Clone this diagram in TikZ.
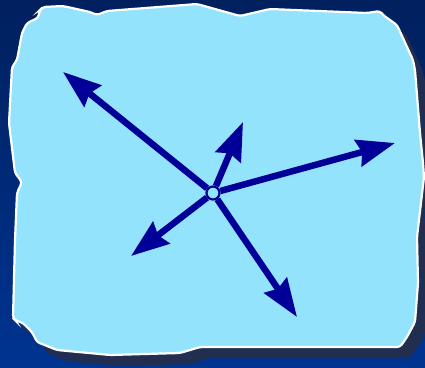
\documentclass[tikz,border=0pt]{standalone}
\usetikzlibrary{arrows.meta}
\definecolor{bgtop}{RGB}{0,32,94}
\definecolor{bgbot}{RGB}{0,52,145}
\definecolor{paper}{RGB}{148,227,253}
\definecolor{ink}{RGB}{0,0,153}
\definecolor{shadowc}{RGB}{33,46,80}
\def\papershape{(40,10) -- (43,7) -- (63,6) -- (90,12) -- (97,15) -- (107,11) -- (197,4) -- (240,16) -- (270,9) -- (367,13) -- (380,11) -- (383,15) -- (397,25) -- (413,60) -- (415,70) -- (420,133) -- (423,163) -- (424,177) -- (417,237) -- (418,283) -- (415,322) -- (407,337) -- (400,347) -- (200,347) -- (180,353) -- (110,355) -- (57,350) -- (37,342) -- (32,332) -- (23,323) -- (15,320) -- (13,318) -- (15,240) -- (17,193) -- (22,182) -- (15,173) -- (9,123) -- (12,67) -- (17,60) -- (22,33) -- (27,23) -- (38,18) -- cycle}
\tikzset{
  arr/.style={draw=ink, line width=6.5pt, -{Stealth[length=38pt,width=27pt,inset=4pt]}},
  hub/.style={circle, minimum size=13pt, inner sep=0pt, fill=paper, draw=ink, line width=2.2pt}
}
\begin{document}
\begin{tikzpicture}[x=1pt,y=-1pt]
\shade[top color=bgtop,bottom color=bgbot] (0,0) rectangle (425,367);
\useasboundingbox (0,0) rectangle (425,367);
\begin{scope}[shift={(10,11)}]
  \fill[shadowc, rounded corners=3pt] \papershape;
\end{scope}
\draw[fill=paper, draw=white, line width=2.2pt, rounded corners=3pt] \papershape;
\node[hub] (c) at (213,193) {};
\coordinate (t1) at (63,72);
\coordinate (t2) at (243,122);
\coordinate (t3) at (395,143);
\coordinate (t4) at (131,256);
\coordinate (t5) at (297,317);
\draw[arr] (c) -- (t1);
\draw[arr] (c) -- (t2);
\draw[arr] (c) -- (t3);
\draw[arr] (c) -- (t4);
\draw[arr] (c) -- (t5);
\end{tikzpicture}
\end{document}
